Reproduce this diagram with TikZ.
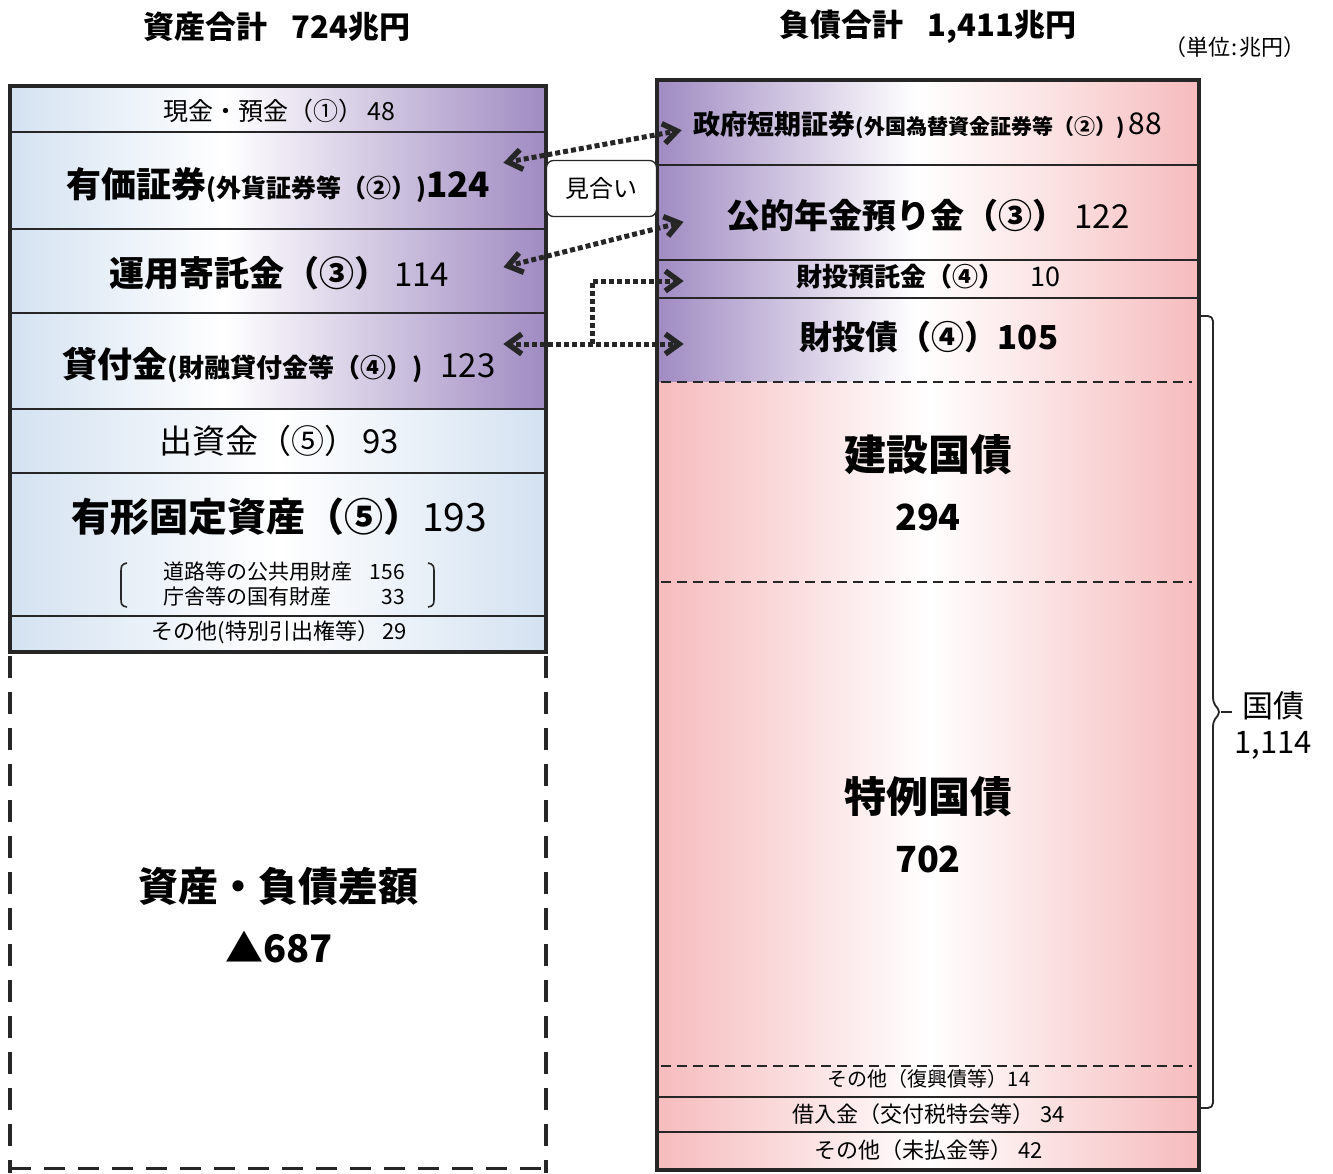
\documentclass[tikz,border=0pt]{standalone}
\usepackage{fontspec}
\setmainfont{Noto Sans CJK JP}
\usetikzlibrary{arrows.meta,calc}
\definecolor{cblue}{RGB}{212,226,241}
\definecolor{cpurp}{RGB}{160,139,194}
\colorlet{cpurpm}{cpurp!50!white}
\definecolor{cpink}{RGB}{246,187,189}
\colorlet{cpinkm}{cpink!45!white}
\definecolor{cline}{RGB}{38,38,38}
\pgfdeclarehorizontalshading{shLtop}{100bp}{color(0bp)=(cblue); color(25bp)=(cblue); color(45bp)=(white); color(60bp)=(cpurpm); color(75bp)=(cpurp); color(100bp)=(cpurp)}
\pgfdeclarehorizontalshading{shLbot}{100bp}{color(0bp)=(cblue); color(25bp)=(cblue); color(50bp)=(white); color(75bp)=(cblue); color(100bp)=(cblue)}
\pgfdeclarehorizontalshading{shRtop}{100bp}{color(0bp)=(cpurp); color(25bp)=(cpurp); color(37bp)=(cpurpm); color(49bp)=(white); color(62bp)=(cpinkm); color(75bp)=(cpink); color(100bp)=(cpink)}
\pgfdeclarehorizontalshading{shRbot}{100bp}{color(0bp)=(cpink); color(25bp)=(cpink); color(50bp)=(white); color(75bp)=(cpink); color(100bp)=(cpink)}
\newcommand\fsz[1]{\fontsize{#1}{#1}\selectfont}
% chevron arrow head at #1 pointing away from #2
\newcommand\chev[2]{\draw[chevst] ($(#1)!17pt!36:(#2)$) -- (#1) -- ($(#1)!17pt!-36:(#2)$);}
\begin{document}
\begin{tikzpicture}[x=1pt,y=-1pt,
  cellL/.style={inner sep=0pt, outer sep=0pt, minimum width=536pt},
  cellR/.style={inner sep=0pt, outer sep=0pt, minimum width=542pt},
  txt/.style={inner sep=0pt, outer sep=0pt, align=center, text=black},
  sep/.style={draw=cline, line width=2.2pt},
  dsep/.style={draw=cline, line width=2pt, dash pattern=on 10pt off 6pt},
  border/.style={draw=cline, line width=4.5pt},
  link/.style={draw=cline, line width=5pt, dash pattern=on 5pt off 3pt},
  chevst/.style={draw=cline, line width=5.5pt, solid, line join=miter, line cap=butt}
]
\useasboundingbox (0,0) rectangle (1333,1173);
\fill[white] (0,0) rectangle (1333,1173);

% ---------- left column cells ----------
\node[cellL, shading=shLtop, minimum height=46pt] (cash) at (278,109) {};
\node[cellL, shading=shLtop, minimum height=97pt] (sec) at (278,180.5) {};
\node[cellL, shading=shLtop, minimum height=84pt] (trust) at (278,271) {};
\node[cellL, shading=shLtop, minimum height=96pt] (loan) at (278,361) {};
\node[cellL, shading=shLbot, minimum height=64pt] (inv) at (278,441) {};
\node[cellL, shading=shLbot, minimum height=143pt] (fixed) at (278,544.5) {};
\node[cellL, shading=shLbot, minimum height=36pt] (othA) at (278,634) {};

% ---------- right column cells ----------
\node[cellR, shading=shRtop, minimum height=85pt] (fb) at (928,122.5) {};
\node[cellR, shading=shRtop, minimum height=95pt] (pen) at (928,212.5) {};
\node[cellR, shading=shRtop, minimum height=38pt] (dep) at (928,279) {};
\node[cellR, shading=shRtop, minimum height=84pt] (filp) at (928,340) {};
\node[cellR, shading=shRbot, minimum height=200pt] (cons) at (928,482) {};
\node[cellR, shading=shRbot, minimum height=484pt] (spec) at (928,824) {};
\node[cellR, shading=shRbot, minimum height=31pt] (othB) at (928,1081.5) {};
\node[cellR, shading=shRbot, minimum height=35pt] (borr) at (928,1114.5) {};
\node[cellR, shading=shRbot, minimum height=38pt] (othC) at (928,1151) {};

% ---------- separators ----------
\foreach \yy in {132,229,313,409,473,616} \draw[sep] (10,\yy) -- (546,\yy);
\foreach \yy in {165,260,298,1097,1132} \draw[sep] (657,\yy) -- (1199,\yy);
\foreach \yy in {382,582,1066} \draw[dsep] (661,\yy) -- (1192,\yy);

% ---------- borders ----------
\draw[border] (10,86) rectangle (546,652);
\draw[border] (657,80) rectangle (1199,1170);
\draw[draw=cline, line width=4pt, dash pattern=on 22pt off 14pt] (10,656) -- (10,1173);
\draw[draw=cline, line width=4pt, dash pattern=on 22pt off 14pt] (546,656) -- (546,1173);
\draw[draw=cline, line width=3pt, dash pattern=on 21pt off 13pt] (10,1168) -- (546,1168);

% ---------- titles ----------
\node[txt] (t1) at (277,27) {\bfseries\fsz{31}資産合計\hspace{24pt}724兆円};
\node[txt] (t2) at (928,27) {\bfseries\fsz{31}負債合計\hspace{24pt}1,411兆円};
\node[txt] (unit) at (1235,47) {\fsz{22}（単位\hspace{1pt}:\hspace{1pt}兆円）};

% ---------- left texts ----------
\node[txt] (tcash) at (279,111) {\fsz{25}現金・預金（①）\hspace{4pt}48};
\node[txt] (tsec) at (278,185) {\bfseries\fsz{35}有価証券\fsz{25}(外貨証券等（②）)\fsz{35}124};
\node[txt] (ttrust) at (279,273) {{\bfseries\fsz{35}運用寄託金（③）}\hspace{5pt}{\fsz{33}114}};
\node[txt] (tloan) at (279,365) {{\bfseries\fsz{35}貸付金\fsz{26}(財融貸付金等（④）)}\hspace{18pt}{\fsz{33}123}};
\node[txt] (tinv) at (279,441) {\fsz{33}出資金（⑤）\hspace{5pt}93};
\node[txt] (tfixed) at (279,517) {{\bfseries\fsz{39}有形固定資産（⑤）}{\fsz{39}193}};
\node[txt, anchor=west] (tsub) at (163,587) {\fontsize{21}{25}\selectfont\begin{tabular}{@{}l@{\hspace{18pt}}r@{}}道路等の公共用財産 & 156\\ 庁舎等の国有財産 & 33\end{tabular}};
\draw[cline, line width=1.6pt] (127,563) .. controls (121,564) and (121,567) .. (121,572) -- (121,598) .. controls (121,604) and (121,606) .. (127,607);
\draw[cline, line width=1.6pt] (428,563) .. controls (434,564) and (434,567) .. (434,572) -- (434,598) .. controls (434,604) and (434,606) .. (428,607);
\node[txt] (tothA) at (279,632) {\fsz{22}その他(特別引出権等）\hspace{3pt}29};
\node[txt] (tdiff) at (278,886) {\bfseries\fsz{40}資産・負債差額};
\node[txt] (tdiffv) at (279,947) {\bfseries\fsz{38}▲687};

% ---------- right texts ----------
\node[txt] (tfb) at (928,125) {{\bfseries\fsz{27}政府短期証券\fsz{21}(外国為替資金証券等（②）)}\hspace{4pt}{\fsz{30}88}};
\node[txt] (tpen) at (928,216) {{\bfseries\fsz{34}公的年金預り金（③）}\hspace{8pt}{\fsz{33}122}};
\node[txt] (tdep) at (928,277) {{\bfseries\fsz{26}財投預託金（④）}\hspace{26pt}{\fsz{27}10}};
\node[txt] (tfilp) at (929,337) {\bfseries\fsz{33}財投債（④）105};
\node[txt] (tcons) at (928,455) {\bfseries\fsz{42}建設国債};
\node[txt] (tconsv) at (928,517) {\bfseries\fsz{36}294};
\node[txt] (tspec) at (928,797) {\bfseries\fsz{42}特例国債};
\node[txt] (tspecv) at (928,859) {\bfseries\fsz{36}702};
\node[txt] (tothB) at (929,1079) {\fsz{20}その他（復興債等）14};
\node[txt] (tborr) at (929,1114) {\fsz{22}借入金（交付税特会等）\hspace{6pt}34};
\node[txt] (tothC) at (929,1150) {\fsz{22}その他（未払金等）\hspace{6pt}42};

% ---------- brace ----------
\coordinate (bt) at (1201,316);
\coordinate (bb) at (1201,1108);
\coordinate (bm) at (1221,712);
\draw[cline, line width=1.8pt, rounded corners=5pt] (bt) -- (1213,316) -- (1213,703) -- (bm) -- (1213,721) -- (1213,1108) -- (bb);
\draw[cline, line width=1.8pt] (bm) -- (1232,712);
\node[txt] (kokusai) at (1273,706) {\fsz{31}国債};
\node[txt] (kokusaiv) at (1273,745) {\fsz{31}1,114};

% ---------- arrows ----------
\coordinate (a1l) at (508,162);
\coordinate (a1r) at (677,131);
\coordinate (a2l) at (508,266);
\coordinate (a2r) at (679,223);
\coordinate (a3l) at (508,344);
\coordinate (a3r) at (679,344);
\coordinate (a4m) at (592,344);
\coordinate (a4c) at (592,281);
\coordinate (a4r) at (679,281);
\draw[link] (a1l) -- (a1r);
\draw[link] (a2l) -- (a2r);
\draw[link] (a3l) -- (a3r);
\draw[link] (a4m) -- (a4c) -- (a4r);
\chev{a1l}{a1r}
\chev{a1r}{a1l}
\chev{a2l}{a2r}
\chev{a2r}{a2l}
\chev{a3l}{a3r}
\chev{a3r}{a3l}
\chev{a4r}{a4c}

\node[draw=cline, line width=1.3pt, rounded corners=7pt, fill=white, minimum width=110pt, minimum height=56pt, inner sep=0pt] (mi) at (601.5,188.5) {\fsz{24}見合い};
\end{tikzpicture}
\end{document}
